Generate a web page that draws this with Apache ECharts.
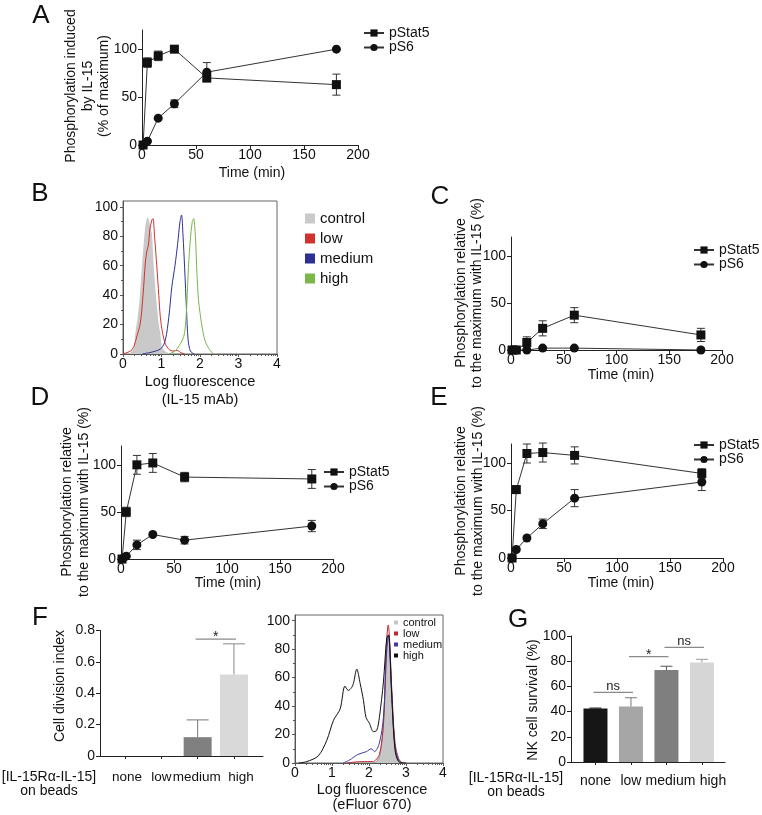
<!DOCTYPE html>
<html><head><meta charset="utf-8">
<script src="https://cdn.jsdelivr.net/npm/echarts@6/dist/echarts.min.js"></script>
<style>html,body{margin:0;padding:0;background:#fff}#c{width:762px;height:815px}</style>
</head><body><div id="c"></div>
<script>
// ================= DATA =================
const timePoints = [1, 5, 15, 30, 60, 180];
const timeTicks = [0, 50, 100, 150, 200];
const pctTicks = [0, 50, 100];

// Panel A
const pStat5_A = [0, 86, 93, 100, 70, 63];
const pStat5_A_err = [0, 5, 5, 0, 4, 11];
const pS6_A = [0, 4, 28, 43, 76, 100];
const pS6_A_err = [0, 0, 0, 4, 10, 0];
// Panel C
const pStat5_C = [0, 0, 8, 23, 37, 16];
const pStat5_C_err = [0, 0, 6, 8, 8, 7];
const pS6_C = [0, 0, 0, 2, 2, 0];
const pS6_C_err = [0, 0, 0, 1, 1, 2];
// Panel D
const pStat5_D = [0, 50, 100, 102, 87, 85];
const pStat5_D_err = [0, 5, 10, 10, 5, 10];
const pS6_D = [0, 3, 15, 26, 20, 35];
const pS6_D_err = [0, 0, 5, 0, 4, 6];
// Panel E
const pStat5_E = [0, 72, 110, 111, 108, 89];
const pStat5_E_err = [0, 4, 10, 10, 9, 5];
const pS6_E = [0, 9, 21, 36, 63, 80];
const pS6_E_err = [0, 0, 0, 5, 9, 9];

// Panel B histograms (log fluorescence, % of max)
const histTicksY = [0, 20, 40, 60, 80, 100];
const histTicksYMinor = [10, 30, 50, 70, 90];
const histTicksX = [0, 1, 2, 3, 4];
const B_control_x = [0.1,0.2,0.28,0.32,0.38,0.43,0.49,0.56,0.6,0.64,0.68,0.72,0.75,0.8,0.865,0.93,0.97,1.0,1.05,1.15,1.3];
const B_control_y = [0,1,4,14,25,37,59,82,90,93,90,85,82,59,37,20,14,6,3,1,0];
const B_low_x = [0,0.1,0.2,0.28,0.36,0.45,0.52,0.58,0.62,0.66,0.7,0.75,0.78,0.82,0.88,0.93,0.97,1.03,1.1,1.2,1.3,1.4,1.5,1.6];
const B_low_y = [0,1,2,5,12,21,40,62,70,74,85,91,92,80,59,40,25,14,7,3,2,2.5,1,0];
const B_medium_x = [0.5,0.7,0.85,1.0,1.1,1.19,1.27,1.35,1.42,1.48,1.52,1.56,1.6,1.65,1.69,1.75,1.85];
const B_medium_y = [0,1,2,4,9.5,25,46,60,75,90,94.5,80,59,30,10,2,0];
const B_high_x = [1.2,1.35,1.49,1.58,1.62,1.66,1.7,1.75,1.8,1.835,1.88,1.92,1.96,2.0,2.05,2.1,2.16,2.25,2.35];
const B_high_y = [0,2,7,12,19,35,59,78,90,92,80,55,37,28,19,12,7,3,0];
const histNames = ['control', 'low', 'medium', 'high'];

// Panel F right histograms (eFluor 670)
const F_control_x = [2.1,2.2,2.3,2.4,2.47,2.52,2.58,2.65,2.72,2.8,2.9];
const F_control_y = [0,1,6,30,75,90,70,30,8,1,0];
const F_low_x = [1.4,1.8,2.1,2.28,2.39,2.45,2.48,2.52,2.56,2.61,2.7,2.8,2.9];
const F_low_y = [0,1,1,6,28,70,88,97,85,55,15,3,0];
const F_medium_x = [1.3,1.47,1.7,1.93,2.06,2.15,2.28,2.39,2.48,2.53,2.6,2.7,2.8,2.9];
const F_medium_y = [0,2,6,8,10,8,14,32,80,90,55,12,2,0];
const F_high_x = [0.1,0.32,0.63,0.86,1.04,1.22,1.35,1.44,1.53,1.58,1.67,1.76,1.85,1.92,2.01,2.12,2.21,2.28,2.39,2.48,2.53,2.61,2.7,2.8,3.0];
const F_high_y = [0,1,5,16,30,38,54,51,53,56,66,56,44,32,28,22,23,32,57,88,90,50,10,1,0];

// Panel F left bars
const beadCats = ['none', 'low', 'medium', 'high'];
const divIndex = [0, 0, 0.12, 0.52];
const divIndexErr = [0, 0, 0.11, 0.195];
const divTicks = [0, 0.2, 0.4, 0.6, 0.8];
const sigF_pairs = [[2, 3]];
const sigF_levels = [0.745];
const sigF_labels = ['*'];

// Panel G bars
const survival = [42.5, 44, 73, 79];
const survivalErr = [0.3, 7, 3, 2.5];
const survTicks = [0, 20, 40, 60, 80, 100];
const sigG_pairs = [[0, 1], [1, 2], [2, 3]];
const sigG_levels = [55.3, 83.6, 91];
const sigG_labels = ['ns', '*', 'ns'];

// ================= STYLE =================
const FONT = '"Liberation Sans", Arial, Helvetica, sans-serif';
const AX = '#222';
const colB = ['#c9c9c9', '#d2322d', '#2e3192', '#7ab648'];
const colF = ['#c6c6c6', '#c0272d', '#3b3ba0', '#111111'];
const colFbars = ['#808080', '#808080', '#808080', '#d9d9d9'];
const colFerr = ['#777', '#777', '#777', '#8a8a8a'];
const colG = ['#161616', '#a6a6a6', '#7f7f7f', '#d6d6d6'];
const colGerr = ['#111', '#777', '#555', '#999'];
// horizontal nudges (px) of the category labels, as in the original layout
const labelShiftF = [2, 0, -1, 7];
const labelShiftG = [0, 0, 4, 11];

const zip = (xs, ys) => xs.map((x, i) => [x, ys[i]]);

function valueX(gi, extra) {
  return Object.assign({
    type: 'value', gridIndex: gi, position: 'bottom', splitLine: { show: false },
    axisLine: { show: true, onZero: false, lineStyle: { color: AX, width: 1 } },
    axisTick: { show: true, length: 4, lineStyle: { color: AX } },
    axisLabel: { color: '#111', fontSize: 14, fontFamily: FONT, margin: 3 }
  }, extra);
}
function valueY(gi, extra) {
  return Object.assign({
    type: 'value', gridIndex: gi, position: 'left', splitLine: { show: false },
    axisLine: { show: true, onZero: false, lineStyle: { color: AX, width: 1 } },
    axisTick: { show: true, length: 4, lineStyle: { color: AX } },
    axisLabel: { color: '#111', fontSize: 14, fontFamily: FONT, margin: 5 }
  }, extra);
}
const timeX = gi => valueX(gi, { min: 0, max: 200, interval: 50 });
const pctY = gi => valueY(gi, {
  min: 0, max: 120,
  axisTick: { show: true, length: 4, lineStyle: { color: AX }, customValues: pctTicks },
  axisLabel: { color: '#111', fontSize: 14, fontFamily: FONT, margin: 5, customValues: pctTicks }
});

function errSeries(gi, xs, ys, es, color, upOnly, cap) {
  return {
    type: 'custom', xAxisIndex: gi, yAxisIndex: gi, z: 3, silent: true,
    data: xs.map((x, i) => [x, ys[i], es[i]]),
    renderItem(params, api) {
      const x = api.value(0), y = api.value(1), e = api.value(2);
      if (!e) return null;
      const top = api.coord([x, y + e]);
      const bot = api.coord([x, upOnly ? y : y - e]);
      const c = Array.isArray(color) ? color[params.dataIndex] : color;
      const st = { stroke: c, lineWidth: 1 };
      const ch = [
        { type: 'line', shape: { x1: top[0], y1: top[1], x2: bot[0], y2: bot[1] }, style: st },
        { type: 'line', shape: { x1: top[0] - cap, y1: top[1], x2: top[0] + cap, y2: top[1] }, style: st }
      ];
      if (!upOnly) ch.push({ type: 'line', shape: { x1: bot[0] - cap, y1: bot[1], x2: bot[0] + cap, y2: bot[1] }, style: st });
      return { type: 'group', children: ch };
    }
  };
}

function linePanel(gi, s5, s5e, s6, s6e) {
  return [
    errSeries(gi, timePoints, s5, s5e, '#333', false, 4),
    errSeries(gi, timePoints, s6, s6e, '#333', false, 4),
    { type: 'line', name: 'pStat5', xAxisIndex: gi, yAxisIndex: gi, data: zip(timePoints, s5),
      symbol: 'rect', symbolSize: 9, itemStyle: { color: '#111' }, lineStyle: { color: '#333', width: 1 }, z: 5, silent: true },
    { type: 'line', name: 'pS6', xAxisIndex: gi, yAxisIndex: gi, data: zip(timePoints, s6),
      symbol: 'circle', symbolSize: 9, itemStyle: { color: '#111' }, lineStyle: { color: '#333', width: 1 }, z: 5, silent: true }
  ];
}

function histSeries(gi, name, xs, ys, color, filled, outline) {
  return {
    type: 'line', name, xAxisIndex: gi, yAxisIndex: gi, data: zip(xs, ys),
    smooth: 0.3, symbol: 'none', showSymbol: false, silent: true,
    itemStyle: { color },
    lineStyle: { color: filled ? (outline || color) : color, width: filled && !outline ? 0 : 1 },
    areaStyle: filled ? { color, opacity: 1 } : undefined,
    z: filled ? 1 : 2
  };
}

function sigSeries(gi, pairs, levels, labels) {
  return {
    type: 'custom', xAxisIndex: gi, yAxisIndex: gi, z: 6, silent: true,
    data: pairs.map((p, i) => [p[0], levels[i], p[1]]),
    renderItem(params, api) {
      const a = api.coord([api.value(0), api.value(1)]);
      const b = api.coord([api.value(2), api.value(1)]);
      const t = labels[params.dataIndex];
      const star = t === '*';
      return { type: 'group', children: [
        { type: 'line', shape: { x1: a[0] - 2, y1: a[1], x2: b[0] + 2, y2: b[1] }, style: { stroke: '#8a8a8a', lineWidth: 1.3 } },
        { type: 'text', style: { text: t, x: (a[0] + b[0]) / 2, y: star ? a[1] + 5 : a[1] - 6,
          align: 'center', verticalAlign: star ? 'bottom' : 'middle', fontSize: star ? 14 : 13, fontFamily: FONT, fill: '#222' } }
      ] };
    }
  };
}

// log-style minor ticks for flow histogram x axes
const logMinor = [];
for (let d = 0; d < 4; d++) for (let k = 2; k <= 9; k++) logMinor.push(d + Math.log10(k));

const grids = [
  { left: 142, top: 30, width: 216, height: 115 },   // A
  { left: 123, top: 201, width: 154, height: 153, show: true, borderColor: '#666', borderWidth: 1, backgroundColor: 'transparent' }, // B
  { left: 511, top: 237, width: 211, height: 113 },  // C
  { left: 121, top: 446, width: 212, height: 113 },  // D
  { left: 511, top: 444, width: 212, height: 114 },  // E
  { left: 100, top: 630.5, width: 163, height: 125.5 }, // F left
  { left: 295, top: 615, width: 148, height: 148, show: true, borderColor: '#666', borderWidth: 1, backgroundColor: 'transparent' }, // F right
  { left: 571, top: 636, width: 154, height: 126 }   // G
];

const histY = gi => valueY(gi, {
  min: 0, max: 104,
  axisLine: { show: true, onZero: false, lineStyle: { color: '#555' } },
  axisTick: { show: true, length: 3, lineStyle: { color: '#555' }, customValues: histTicksY },
  axisLabel: { color: '#111', fontSize: 14, fontFamily: FONT, margin: 5, customValues: histTicksY }
});
const histX = gi => valueX(gi, { min: 0, max: 4,
  axisLine: { show: true, onZero: false, lineStyle: { color: '#555' } },
  axisTick: { show: true, length: 3, lineStyle: { color: '#555' }, customValues: histTicksX },
  axisLabel: { color: '#111', fontSize: 14, fontFamily: FONT, margin: 3, customValues: histTicksX } });
const minorX = gi => ({ type: 'value', gridIndex: gi, position: 'bottom', min: 0, max: 4, splitLine: { show: false },
  axisLine: { show: false }, axisLabel: { show: false },
  axisTick: { show: true, length: 2, lineStyle: { color: '#555' }, customValues: logMinor } });
const minorY = gi => ({ type: 'value', gridIndex: gi, position: 'left', min: 0, max: 104, splitLine: { show: false },
  axisLine: { show: false }, axisLabel: { show: false },
  axisTick: { show: true, length: 2, lineStyle: { color: '#555' }, customValues: histTicksYMinor } });
const catX = (gi, min, max, size, margin, shifts) => {
  const rich = {};
  shifts.forEach((s, i) => {
    rich['c' + i] = { fontSize: size, fontFamily: FONT, color: '#111',
      padding: s >= 0 ? [0, 0, 0, 2 * s] : [0, -2 * s, 0, 0] };
  });
  return valueX(gi, { min, max,
    axisTick: { show: true, length: 3, lineStyle: { color: AX }, customValues: [0, 1, 2, 3] },
    axisLabel: { color: '#111', fontSize: size, fontFamily: FONT, margin, hideOverlap: false,
      showMinLabel: true, showMaxLabel: true, rich,
      customValues: [0, 1, 2, 3], formatter: v => { const i = Math.round(v); return '{c' + i + '|' + beadCats[i] + '}'; } } });
};

const xAxes = [
  timeX(0), histX(1), timeX(2), timeX(3), timeX(4),
  catX(5, -0.69, 3.8, 13.5, 14, labelShiftF),
  histX(6),
  catX(7, -0.69, 3.65, 14, 12, labelShiftG),
  minorX(1), minorX(6)
];
const yAxes = [
  pctY(0), histY(1), pctY(2), pctY(3), pctY(4),
  valueY(5, { min: 0, max: 0.8,
    axisTick: { show: true, length: 4, lineStyle: { color: AX }, customValues: divTicks },
    axisLabel: { color: '#111', fontSize: 14, fontFamily: FONT, margin: 5, customValues: divTicks,
      formatter: v => v === 0 ? '0' : Number(v).toFixed(1) } }),
  histY(6),
  valueY(7, { min: 0, max: 100,
    axisTick: { show: true, length: 4, lineStyle: { color: AX }, customValues: survTicks },
    axisLabel: { color: '#111', fontSize: 14, fontFamily: FONT, margin: 5, customValues: survTicks } }),
  minorY(1), minorY(6)
];

const series = [].concat(
  linePanel(0, pStat5_A, pStat5_A_err, pS6_A, pS6_A_err),
  linePanel(2, pStat5_C, pStat5_C_err, pS6_C, pS6_C_err),
  linePanel(3, pStat5_D, pStat5_D_err, pS6_D, pS6_D_err),
  linePanel(4, pStat5_E, pStat5_E_err, pS6_E, pS6_E_err),
  [
    histSeries(1, 'control', B_control_x, B_control_y, colB[0], true),
    histSeries(1, 'low', B_low_x, B_low_y, colB[1]),
    histSeries(1, 'medium', B_medium_x, B_medium_y, colB[2]),
    histSeries(1, 'high', B_high_x, B_high_y, colB[3]),
    histSeries(6, 'control|F', F_control_x, F_control_y, colF[0], true, '#9a9a9a'),
    histSeries(6, 'low|F', F_low_x, F_low_y, colF[1]),
    histSeries(6, 'medium|F', F_medium_x, F_medium_y, colF[2]),
    histSeries(6, 'high|F', F_high_x, F_high_y, colF[3]),
    { type: 'bar', xAxisIndex: 5, yAxisIndex: 5, barWidth: 28, silent: true, z: 2,
      data: divIndex.map((v, i) => ({ value: [i, v], itemStyle: { color: colFbars[i] } })) },
    errSeries(5, [0, 1, 2, 3], divIndex, divIndexErr, colFerr, true, 11),
    sigSeries(5, sigF_pairs, sigF_levels, sigF_labels),
    { type: 'bar', xAxisIndex: 7, yAxisIndex: 7, barWidth: 24, silent: true, z: 2,
      data: survival.map((v, i) => ({ value: [i, v], itemStyle: { color: colG[i] } })) },
    errSeries(7, [0, 1, 2, 3], survival, survivalErr, colGerr, true, 6),
    sigSeries(7, sigG_pairs, sigG_levels, sigG_labels)
  ]
);

const lineLegend = (left, top) => ({
  data: ['pStat5', 'pS6'], left, top, padding: 0, orient: 'vertical', itemWidth: 20, itemHeight: 9, itemGap: 0.5,
  selectedMode: false, textStyle: { fontSize: 14, fontFamily: FONT, color: '#111', lineHeight: 14 }
});

const legends = [
  lineLegend(363, 26),
  lineLegend(693, 243),
  lineLegend(323, 465),
  lineLegend(693, 438),
  { data: histNames, left: 305, top: 211, padding: 0, orient: 'vertical', icon: 'rect', itemWidth: 10, itemHeight: 10, itemGap: 5,
    selectedMode: false, textStyle: { fontSize: 15, fontFamily: FONT, color: '#111', lineHeight: 15 } },
  { data: histNames.map(n => n + '|F'), left: 394, top: 617, padding: 0, orient: 'vertical', icon: 'rect', itemWidth: 4, itemHeight: 4, itemGap: 0,
    formatter: n => n.split('|')[0],
    selectedMode: false, textStyle: { fontSize: 11, fontFamily: FONT, color: '#111', lineHeight: 10 } }
];

const T = (x, y, text, o = {}) => ({
  type: 'text', x, y, rotation: o.rot || 0, silent: true,
  style: { text, fontSize: o.size || 14, fontFamily: FONT, fill: '#111', align: 'center', verticalAlign: 'middle',
    lineHeight: o.lh || 16 }
});
const R = Math.PI / 2;
const graphics = [
  T(41, 16, 'A', { size: 26 }), T(40, 194, 'B', { size: 26 }), T(440, 197, 'C', { size: 26 }),
  T(40, 398, 'D', { size: 26 }), T(439, 398, 'E', { size: 26 }), T(40, 618, 'F', { size: 26 }), T(518, 620, 'G', { size: 26 }),
  T(88, 86, 'Phosphorylation induced\nby IL-15\n(% of maximum)', { rot: R, lh: 16.5 }),
  T(252, 173, 'Time (min)'),
  T(200, 382, 'Log fluorescence', { size: 14.5 }), T(200, 400, '(IL-15 mAb)', { size: 14.5 }),
  T(469.5, 293, 'Phosphorylation relative\nto the maximum with IL-15 (%)', { rot: R, lh: 16 }),
  T(621, 375, 'Time (min)'),
  T(76, 502, 'Phosphorylation relative\nto the maximum with IL-15 (%)', { rot: R, lh: 17 }),
  T(228, 583, 'Time (min)'),
  T(469.5, 501, 'Phosphorylation relative\nto the maximum with IL-15 (%)', { rot: R, lh: 17 }),
  T(621, 583, 'Time (min)'),
  T(60, 686, 'Cell division index', { rot: R }),
  T(49, 777, '[IL-15R\u03b1-IL-15]'), T(49, 791, 'on beads'),
  T(372, 790, 'Log fluorescence', { size: 14.5 }), T(372, 805, '(eFluor 670)', { size: 14.5 }),
  T(533, 700, 'NK cell survival (%)', { rot: R }),
  T(516, 778, '[IL-15R\u03b1-IL-15]'), T(516, 792, 'on beads')
];

const chart = echarts.init(document.getElementById('c'), null, { renderer: 'canvas', width: 762, height: 815 });
chart.setOption({
  animation: false,
  backgroundColor: '#fff',
  textStyle: { fontFamily: FONT },
  grid: grids,
  xAxis: xAxes,
  yAxis: yAxes,
  legend: legends,
  series,
  graphic: graphics
});
</script></body></html>
